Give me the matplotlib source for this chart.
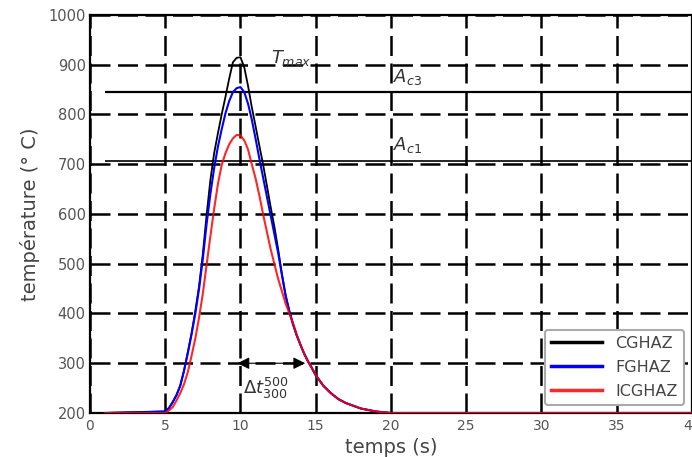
import matplotlib
matplotlib.use("Agg")
import matplotlib.pyplot as plt

# ---- data ----
t = [1, 5, 5.25, 5.5, 5.75, 6, 6.25, 6.5, 6.75, 7,
     7.25, 7.5, 7.75, 8, 8.25, 8.5, 8.75, 9, 9.25, 9.5,
     9.75, 10, 10.25, 10.5, 10.75, 11, 11.25, 11.5, 11.75, 12,
     12.25, 12.5, 12.75, 13, 13.25, 13.5, 13.75, 14, 14.25, 14.5,
     14.75, 15, 15.5, 16, 16.5, 17, 18, 19, 20, 40]
cghaz = [200, 203, 210, 222, 236, 255, 285, 322, 360, 405,
         455, 520, 598, 668, 722, 762, 800, 835, 872, 905,
         914, 915, 895, 858, 815, 777, 738, 700, 658, 615,
         575, 530, 480, 437, 405, 378, 355, 336, 318, 303,
         290, 276, 255, 240, 228, 220, 209, 203, 200, 200]
fghaz = [200, 203, 210, 222, 236, 255, 285, 320, 358, 400,
         450, 510, 580, 640, 692, 735, 770, 802, 827, 845,
         853, 855, 845, 822, 790, 752, 712, 674, 636, 598,
         560, 522, 478, 435, 404, 377, 355, 336, 318, 303,
         290, 276, 255, 240, 228, 220, 209, 203, 200, 200]
icghaz = [200, 200, 205, 212, 225, 240, 258, 282, 315, 350,
          392, 440, 498, 555, 610, 660, 698, 722, 740, 752,
          759, 758, 748, 730, 700, 672, 638, 600, 565, 530,
          500, 470, 445, 420, 400, 380, 356, 336, 318, 303,
          290, 276, 255, 240, 228, 220, 209, 203, 200, 200]
labels = ["CGHAZ", "FGHAZ", "ICGHAZ"]
colors = ["black", "blue", "red"]

ac3 = 845
ac1 = 707
t_line_start = 1
dt_start, dt_end, dt_level = 9.8, 14.3, 300

xticks = [0, 5, 10, 15, 20, 25, 30, 35, 40]
yticks = [200, 300, 400, 500, 600, 700, 800, 900, 1000]

fig = plt.figure(figsize=(6.92, 4.57), dpi=100)
ax = fig.add_axes([0.130, 0.0963, 0.870, 0.8709])

# grid
ax.set_axisbelow(True)
ax.grid(True, color="black", linestyle=(0, (8, 3)), linewidth=1.8)

# Ac3 / Ac1 lines
ax.hlines(ac3, t_line_start, 40, color="black", linewidth=1.6, zorder=2)
ax.hlines(ac1, t_line_start, 40, color="black", linewidth=1.2, zorder=2)

# curves
ax.plot(t, cghaz, color=colors[0], linewidth=1.3, label=labels[0], zorder=3)
ax.plot(t, fghaz, color=colors[1], linewidth=1.5, label=labels[1], zorder=4)
ax.plot(t, icghaz, color=colors[2], linewidth=1.5, alpha=0.85, label=labels[2], zorder=5)

# annotations
ax.text(12.0, 903, r"$T_{max}$", fontsize=13, color="#333333", ha="left", va="baseline")
ax.text(20.15, 866, r"$A_{c3}$", fontsize=13, color="#333333", ha="left", va="baseline")
ax.text(20.15, 729, r"$A_{c1}$", fontsize=13, color="#333333", ha="left", va="baseline")
ax.annotate("", xy=(dt_start, dt_level), xytext=(dt_end, dt_level),
            arrowprops=dict(arrowstyle="<|-|>", color="black", lw=0.8,
                            mutation_scale=18, shrinkA=0, shrinkB=0), zorder=6)
ax.text(10.2, 250, r"$\Delta t^{500}_{300}$", fontsize=13, color="#333333",
        ha="left", va="center")

ax.set_xlim(0, 40)
ax.set_ylim(200, 1000)
ax.set_xticks(xticks)
ax.set_xticklabels([str(v) for v in xticks])
ax.set_yticks(yticks)
ax.set_yticklabels([str(v) for v in yticks])
ax.tick_params(axis="both", length=0, labelcolor="#555555")
ax.tick_params(axis="x", labelsize=10, pad=4)
ax.tick_params(axis="y", labelsize=10.5, pad=3)

for s in ax.spines.values():
    s.set_linewidth(1.6)
    s.set_color("black")

ax.set_xlabel("temps (s)", fontsize=14, color="#444444", labelpad=4)
ax.set_ylabel("température (° C)", fontsize=14, color="#444444", labelpad=6)

leg = ax.legend(loc="lower right", fontsize=11.5, frameon=True, fancybox=True,
                framealpha=1, edgecolor="#aaaaaa", handlelength=3.2,
                borderaxespad=0.5, labelspacing=0.55)
leg.get_frame().set_linewidth(1.5)
for txt in leg.get_texts():
    txt.set_color("#444444")
for line in leg.get_lines():
    line.set_linewidth(2.5)

fig.savefig("out.png", dpi=100)
